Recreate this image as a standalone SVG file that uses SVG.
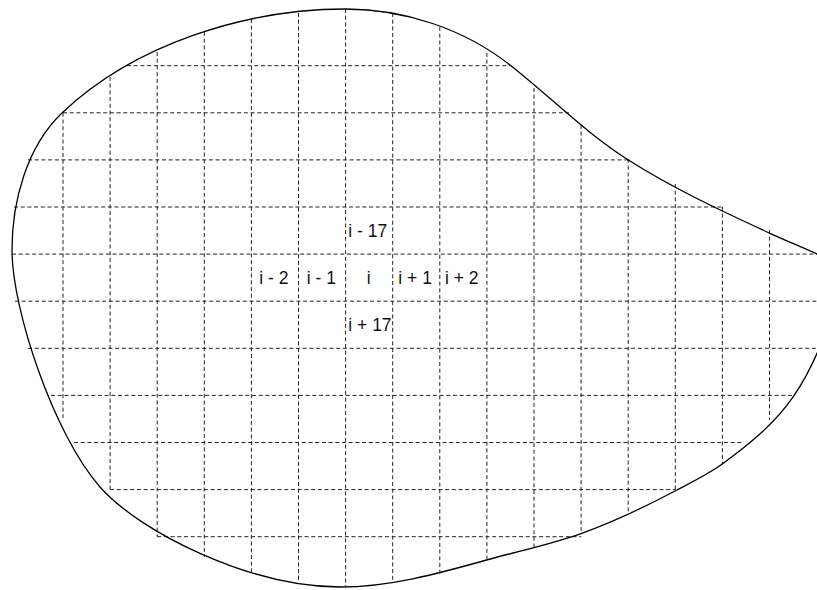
<svg xmlns="http://www.w3.org/2000/svg" width="817" height="590" viewBox="0 0 817 590">
<style>
.g{stroke:#222;stroke-width:1;stroke-dasharray:4 2.7;fill:none}
.b{stroke:#000;stroke-width:1.3;fill:none}
.t{font-family:"Liberation Sans",Arial,sans-serif;font-size:17.5px;fill:#111}
</style>
<rect width="817" height="590" fill="#fff"/>
<g id="grid">
<line class="g" x1="63" y1="112.8" x2="63" y2="418"/>
<line class="g" x1="110.1" y1="77" x2="110.1" y2="489.6"/>
<line class="g" x1="157.2" y1="52" x2="157.2" y2="536.7"/>
<line class="g" x1="204.3" y1="32" x2="204.3" y2="557"/>
<line class="g" x1="251.4" y1="19" x2="251.4" y2="572"/>
<line class="g" x1="298.5" y1="13" x2="298.5" y2="581"/>
<line class="g" x1="345.6" y1="9" x2="345.6" y2="586"/>
<line class="g" x1="392.7" y1="13" x2="392.7" y2="583"/>
<line class="g" x1="439.8" y1="27" x2="439.8" y2="574"/>
<line class="g" x1="486.9" y1="53" x2="486.9" y2="560"/>
<line class="g" x1="534" y1="88" x2="534" y2="547"/>
<line class="g" x1="581.1" y1="125" x2="581.1" y2="533.3"/>
<line class="g" x1="628.2" y1="159" x2="628.2" y2="512"/>
<line class="g" x1="675.3" y1="184" x2="675.3" y2="489.6"/>
<line class="g" x1="722.4" y1="207" x2="722.4" y2="464"/>
<line class="g" x1="769.5" y1="230" x2="769.5" y2="420"/>
<line class="g" x1="127" y1="65.7" x2="510" y2="65.7"/>
<line class="g" x1="63" y1="112.8" x2="569" y2="112.8"/>
<line class="g" x1="28" y1="159.9" x2="628.2" y2="159.9"/>
<line class="g" x1="14" y1="207" x2="722.4" y2="207"/>
<line class="g" x1="12" y1="254.1" x2="817" y2="254.1"/>
<line class="g" x1="15" y1="301.2" x2="817" y2="301.2"/>
<line class="g" x1="28" y1="348.3" x2="817" y2="348.3"/>
<line class="g" x1="51" y1="395.4" x2="792" y2="395.4"/>
<line class="g" x1="74" y1="442.5" x2="744" y2="442.5"/>
<line class="g" x1="110.1" y1="489.6" x2="675.3" y2="489.6"/>
<line class="g" x1="157.2" y1="536.7" x2="581.1" y2="536.7"/>
</g>
<g id="boundary">
<path class="b" d="M346,9 C404,9 464.2,29 510,65 C550,96.4 585.5,132.9 628.3,160 C673.3,188.5 721.7,211 770,233.3 C785.4,240.4 801.5,246.9 817,254 C871.6,279.2 841,298.1 817,353.3 C810.4,368.5 802.6,383.1 793.3,396.7 C775.1,423.3 749.3,444.2 723.3,463.3 C708.6,474.1 692.1,482 676,490.5 C645.5,506.6 614.2,521.7 581.7,533.3 C550.7,544.4 518.4,551.1 486.7,560 C438.8,573.4 389.7,587 340,587 C250,587 139.6,532 100,487 C53.8,434.5 12,310 12,250 C12,201.4 26.8,146.4 62,113 C134.5,44.2 246,9 346,9 Z"/>
</g>
<g id="labels">
<text id="n-im17" class="t" x="348.3" y="237.3">i - 17</text>
<text id="n-im2" class="t" x="259.3" y="284">i - 2</text>
<text id="n-im1" class="t" x="306.7" y="284">i - 1</text>
<text id="n-i" class="t" x="366.7" y="284">i</text>
<text id="n-ip1" class="t" x="398.3" y="284">i + 1</text>
<text id="n-ip2" class="t" x="445" y="284">i + 2</text>
<text id="n-ip17" class="t" x="348.3" y="330.7">i + 17</text>
</g>
</svg>
